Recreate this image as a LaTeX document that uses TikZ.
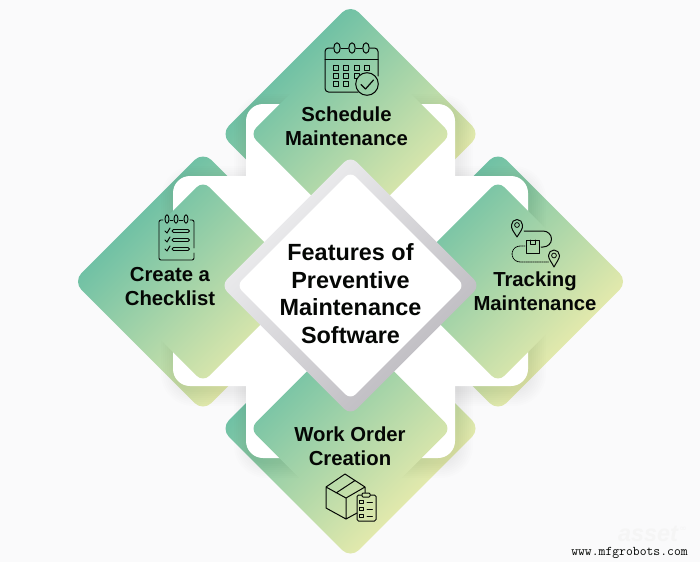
\documentclass[tikz,border=0pt]{standalone}
\usepackage{fontspec}
\setmainfont{Liberation Sans}
\newfontfamily\symfont{DejaVu Sans}
\definecolor{bgc}{HTML}{FAFAFB}
\definecolor{teal}{HTML}{70C1A5}
\definecolor{yel}{HTML}{E2E9AC}
\definecolor{grayA}{HTML}{E9E9EB}
\definecolor{grayB}{HTML}{C2C0C5}
\definecolor{ink}{HTML}{050705}
\newcommand{\dia}[6]{%
  \begin{scope}[transform canvas={shift={(#1,#2)},rotate=45}]
    \path[rounded corners=#4pt,top color=#5,bottom color=#6] (-#3,-#3) rectangle (#3,#3);
  \end{scope}}
% inner diamond: a window on the same gradient as the outer one
\newcommand{\innerdia}[2]{%
  \begin{scope}[transform canvas={shift={(#1,#2)},rotate=45}]
    \begin{scope}
    \clip[rounded corners=9pt] (-71.2,-71.2) rectangle (71.2,71.2);
    \path[top color=teal,bottom color=yel] (-91.9,-91.9) rectangle (91.9,91.9);
    \end{scope}
  \end{scope}}
\newcommand{\armshadow}[4]{%
  \foreach \d in {1,3,...,15}{
    \pgfmathsetmacro{\rr}{17+\d}
    \fill[black,opacity=.007,rounded corners=\rr pt] (#1-\d+3,#2-\d+5) rectangle (#3+\d+3,#4+\d+5);
  }}
\tikzset{
  x=1pt,y=-1pt,
  sidelabel/.style={align=center,font=\fontsize{20.3}{24}\selectfont\bfseries,text=ink,inner sep=0},
  centerlabel/.style={align=center,font=\fontsize{23.4}{27.7}\selectfont\bfseries,text=ink,inner sep=0},
  icon/.style={draw=ink,line width=1pt,line cap=round,line join=round},
  iconthin/.style={draw=ink,line width=.8pt,line cap=round,line join=round},
  arm/.style={fill=white,rounded corners=17pt}
}
\begin{document}
\begin{tikzpicture}
\useasboundingbox (0,0) rectangle (700,562);
\fill[bgc] (0,0) rectangle (700,562);
% outer diamonds
\dia{350.5}{134}{91.9}{12}{teal}{yel}
\dia{203}{281.5}{91.9}{12}{teal}{yel}
\dia{498}{281.5}{91.9}{12}{teal}{yel}
\dia{350.5}{428.5}{91.9}{12}{teal}{yel}
% white cross with soft shadow
\armshadow{246}{104}{455}{458}
\armshadow{173}{176}{528}{386}
\fill[arm] (246,104) rectangle (455,458);
\fill[arm] (173,176) rectangle (528,386);
% inner diamonds
\innerdia{350.5}{134}
\innerdia{203}{281.5}
\innerdia{498}{281.5}
\innerdia{350.5}{428.5}
% centre
\dia{350.5}{285.5}{91.7}{9}{grayA}{grayB}
\dia{350.5}{285.5}{80.5}{7}{white}{white}
% labels
\node[centerlabel] (centre) at (350.5,293.5) {Features of\\Preventive\\Maintenance\\Software};
\node[sidelabel] (sched) at (346.5,126) {Schedule\\Maintenance};
\node[sidelabel] (check) at (170,287) {Create a\\Checklist};
\node[sidelabel] (track) at (535,291) {Tracking\\Maintenance};
\node[sidelabel] (work) at (350,446) {Work Order\\Creation};
% calendar icon
\draw[icon,rounded corners=3.5pt] (333,48) -- (325,48) -- (325,92) -- (358,92);
\draw[icon,rounded corners=3.5pt] (370,48) -- (378,48) -- (378,76);
\draw[icon] (341,48) -- (348,48) (356,48) -- (362,48) (325,59) -- (378,59);
\foreach \rx in {337,352,366}{\draw[icon] (\rx,48) ellipse (3.2 and 5.2);}
\foreach \rx/\ry in {336/68,346/68,357/68,367/68,336/76,346/76,357/76,336/84,346/84}{
  \draw[icon] (\rx-2.6,\ry-2.1) rectangle (\rx+2.6,\ry+2.1);}
\path[fill=yel!37!teal,draw=ink,line width=1pt] (367,84) circle (11.3);
\draw[icon,line width=1.2pt] (361,84.5) -- (365.5,89) -- (373.5,80);
% checklist icon
\draw[iconthin,line width=.9pt,rounded corners=2pt] (163,220) -- (159,220) -- (159,260) -- (194,260) -- (194,253);
\draw[iconthin,line width=.9pt,rounded corners=2pt] (194,248) -- (194,220) -- (190,220);
\draw[iconthin,line width=.9pt] (170,220) -- (173,220) (179,220) -- (183,220);
\foreach \rx in {167,176,186}{\draw[iconthin,line width=.9pt] (\rx,219) ellipse (2 and 4.2);}
\foreach \cy in {231,240,249}{
  \draw[iconthin,line width=1pt] (165,\cy) -- (167,\cy+2) -- (170,\cy-3);
  \draw[iconthin,rounded corners=1.5pt,line width=.9pt] (172,\cy-1.5) rectangle (189.5,\cy+1.5);
}
% tracking icon
\draw[icon] (517,237) .. controls (514,232) and (511,229) .. (511.5,225) arc (180:360:5.5) .. controls (523,229) and (520,232) .. (517,237);
\draw[iconthin] (517,225) circle (2.4);
\draw[icon] (524,231) -- (543,231) arc (-90:90:8.5 and 8) -- (541,247);
\draw[icon] (526,240) rectangle (539,253);
\draw[iconthin] (530,240) -- (530,244.5) -- (535,244.5) -- (535,240);
\draw[iconthin,densely dotted,line width=.9pt] (525,246) -- (520,246) arc (-90:-270:8) -- (549,262);
\draw[icon] (554,267) .. controls (551.5,262) and (548.5,259) .. (548.5,255.5) arc (180:360:5.5) .. controls (559.5,259) and (556.5,262) .. (554,267);
\draw[iconthin] (554,255.5) circle (2.4);
% work-order icon
\draw[icon] (345,474) -- (326,487) -- (346,498) -- (365,487) -- cycle
  (326,487) -- (326,508) -- (346,519) -- (357,513) (346,498) -- (346,519) (365,487) -- (365,494)
  (336,493) -- (355,480.5);
\draw[icon,rounded corners=1.5pt] (357,495) rectangle (376,521);
\draw[icon,rounded corners=1pt,fill=yel!82!teal] (362,493) rectangle (370,497);
\foreach \wy in {502,509,516}{
  \draw[iconthin] (359.5,\wy-1.7) rectangle (363,\wy+1.7);
  \draw[iconthin] (367,\wy) -- (372.5,\wy);
}
% watermark and site
\node[inner sep=0,anchor=base,text=black!4,font=\fontsize{23.4}{24}\selectfont\bfseries\itshape] (wm) at (648,541) {asset};
\node[inner sep=0,text=black!4,font=\fontsize{9}{9}\symfont] (wmb) at (683,529) {∞};
\node[inner sep=0,text=ink,font=\fontsize{13.3}{14}\ttfamily] (site) at (629.5,552.5) {www.mfgrobots.com};
\end{tikzpicture}
\end{document}
